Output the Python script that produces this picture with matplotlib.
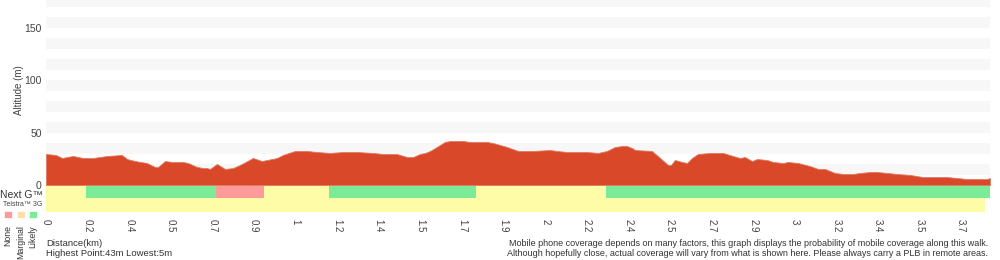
import numpy as np
import matplotlib
matplotlib.use("Agg")
import matplotlib.pyplot as plt

plt.rcParams['font.family'] = ['Liberation Sans', 'DejaVu Sans']

# elevation profile
distance_km = [0.00, 0.04, 0.065, 0.085, 0.109, 0.150, 0.190, 0.247, 0.307, 0.328,
               0.360, 0.408, 0.441, 0.453, 0.481, 0.510, 0.554, 0.574, 0.611, 0.635,
               0.651, 0.663, 0.691, 0.724, 0.756, 0.784, 0.837, 0.873, 0.894, 0.934,
               0.958, 1.007, 1.055, 1.096, 1.148, 1.201, 1.258, 1.322, 1.363, 1.419,
               1.460, 1.484, 1.512, 1.533, 1.553, 1.573, 1.613, 1.634, 1.686, 1.714,
               1.783, 1.808, 1.864, 1.909, 1.969, 2.038, 2.066, 2.107, 2.188, 2.232,
               2.268, 2.301, 2.329, 2.349, 2.370, 2.382, 2.450, 2.483, 2.515, 2.527,
               2.543, 2.572, 2.592, 2.612, 2.636, 2.685, 2.738, 2.778, 2.806, 2.826,
               2.855, 2.875, 2.915, 2.940, 2.980, 3.000, 3.041, 3.089, 3.122, 3.150,
               3.190, 3.223, 3.263, 3.292, 3.332, 3.360, 3.401, 3.441, 3.494, 3.546,
               3.643, 3.684, 3.724, 3.777, 3.805, 3.817]
altitude_m = [29.6, 28.7, 25.8, 26.7, 27.7, 25.8, 25.8, 27.7, 28.7, 24.8,
              22.9, 21.0, 17.2, 17.2, 22.9, 22.0, 22.0, 21.0, 17.2, 16.2,
              16.2, 15.3, 20.1, 15.3, 16.2, 19.1, 25.8, 22.9, 23.9, 25.8,
              28.7, 32.5, 32.5, 31.5, 30.6, 31.5, 31.5, 30.6, 29.6, 29.6,
              26.7, 26.7, 29.6, 30.6, 32.5, 35.3, 41.1, 42.0, 42.0, 41.1,
              41.1, 40.1, 36.3, 32.5, 32.5, 33.4, 32.5, 31.5, 31.5, 30.6,
              32.5, 36.3, 37.2, 37.2, 35.3, 33.4, 32.5, 25.8, 19.1, 19.1,
              23.9, 22.0, 21.0, 25.8, 29.6, 30.6, 30.6, 27.7, 25.8, 26.7,
              22.9, 24.8, 23.9, 22.0, 21.0, 22.0, 21.0, 18.1, 15.3, 15.3,
              11.5, 10.5, 10.5, 11.5, 12.4, 12.4, 11.5, 10.5, 9.6, 7.6,
              7.6, 6.7, 5.7, 5.7, 5.7, 6.7]

# Next G coverage segments (start km, end km, level)
nextg_start = [0.000, 0.162, 0.687, 0.882, 1.144, 1.739, 2.264]
nextg_end = [0.162, 0.687, 0.882, 1.144, 1.739, 2.264, 3.817]
nextg_level = ['Marginal', 'Likely', 'None', 'Marginal', 'Likely', 'Marginal', 'Likely']

# Telstra 3G coverage segments
g3_start = [0.000]
g3_end = [3.797]
g3_level = ['Marginal']

tick_labels = ['0', '0.2', '0.4', '0.5', '0.7', '0.9', '1', '1.2', '1.4', '1.5', '1.7',
               '1.9', '2', '2.2', '2.4', '2.5', '2.7', '2.9', '3', '3.2', '3.4', '3.5', '3.7']
last_tick_km = 3.70

level_colors = {'None': '#ff9a9a', 'Marginal': '#fffca8', 'Likely': '#7beb97'}
legend_colors = {'None': '#ff9a9a', 'Marginal': '#ffdfa8', 'Likely': '#7beb97'}
text_col = '#444444'

fig = plt.figure(figsize=(10, 2.6), dpi=100)
ax = fig.add_axes([0.046, 0.1846, 0.944, 0.8154])
ymin, ymax = -25.8, 176.7
xmax = distance_km[-1]

# light horizontal bands
for b in range(10, 180, 20):
    ax.fill_between([0, xmax], b, b + 10, color='#f7f7f7', lw=0, zorder=0)

ax.fill_between(distance_km, 0, altitude_m, color='#d94828', lw=0.6,
                edgecolor='#e07a63', zorder=2)

row_split = -12.8
for s, e, lev in zip(nextg_start, nextg_end, nextg_level):
    ax.fill_between([s, e], row_split, 0, color=level_colors[lev], lw=0, zorder=1)
for s, e, lev in zip(g3_start, g3_end, g3_level):
    ax.fill_between([s, e], ymin, row_split, color=level_colors[lev], lw=0, zorder=1)

ax.set_xlim(0, xmax)
ax.set_ylim(ymin, ymax)
ax.set_xticks(np.linspace(0, last_tick_km, len(tick_labels)))
ax.set_xticklabels(tick_labels, rotation=-90, fontsize=7, color=text_col)
ax.set_yticks([0, 50, 100, 150])
ax.set_yticklabels(['0', '50', '100', '150'], fontsize=7.5, color=text_col)
ax.tick_params(length=0, pad=3)
ax.tick_params(axis='x', pad=5)
for sp in ax.spines.values():
    sp.set_visible(False)

fig.text(0.019, 0.655, 'Altitude (m)', rotation=90, ha='center', va='center',
         fontsize=7, color=text_col)
fig.text(0.043, 1 - 195 / 260, 'Next G\u2122', ha='right', va='center',
         fontsize=7.5, color='#333333')
fig.text(0.003, 1 - 205 / 260, 'Telstra\u2122 3G', ha='left', va='center',
         fontsize=5, color=text_col)
for i, lev in enumerate(['None', 'Marginal', 'Likely']):
    x0 = (4 + 12.5 * i) / 1000
    fig.patches.append(plt.Rectangle((x0, 1 - 218 / 260), 0.008, 7 / 260,
                                     transform=fig.transFigure,
                                     facecolor=legend_colors[lev],
                                     edgecolor='white', lw=0.5))
    fig.text(x0 + 0.004, 1 - 225 / 260, lev, rotation=90, ha='center', va='top',
             fontsize=6.3, color='#333333')

fig.text(0.046, 1 - 243 / 260, 'Distance(km)', ha='left', va='center',
         fontsize=6.8, color='#333333')
fig.text(0.046, 1 - 253 / 260, 'Highest Point:43m Lowest:5m', ha='left',
         va='center', fontsize=6.8, color='#333333')
fig.text(0.988, 1 - 243 / 260,
         'Mobile phone coverage depends on many factors, this graph displays the '
         'probability of mobile coverage along this walk.',
         ha='right', va='center', fontsize=6.5, color='#333333')
fig.text(0.988, 1 - 253 / 260,
         'Although hopefully close, actual coverage will vary from what is shown '
         'here. Please always carry a PLB in remote areas.',
         ha='right', va='center', fontsize=6.5, color='#333333')

fig.savefig('out.png', dpi=100)
